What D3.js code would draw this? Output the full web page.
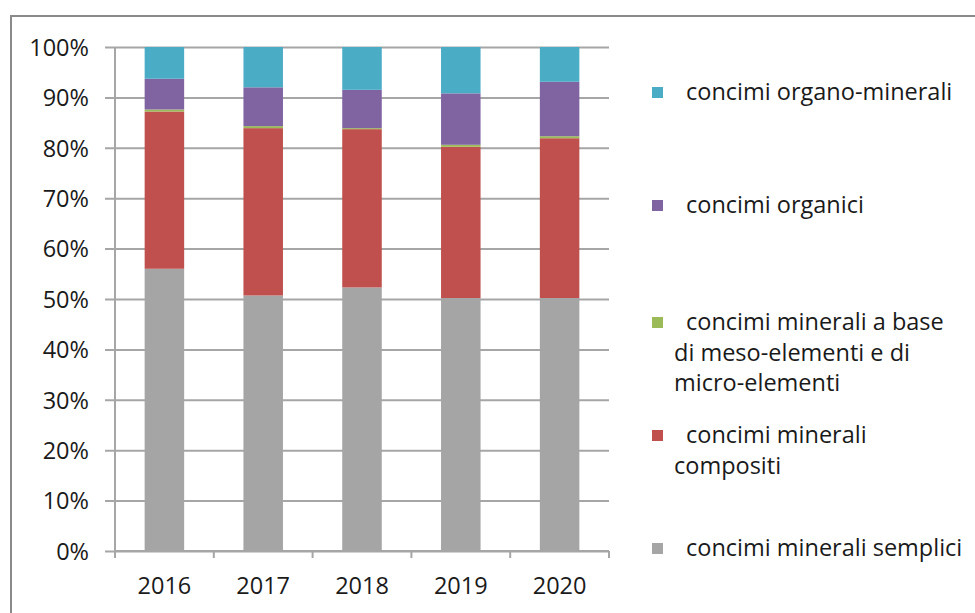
<!DOCTYPE html>
<html>
<head>
<meta charset="utf-8">
<script src="https://cdn.jsdelivr.net/npm/d3@7"></script>
<style>
  body { margin: 0; background: #fff; }
  svg text { font-family: "Open Sans", sans-serif; fill: #1a1a1a; }
</style>
</head>
<body>
<svg id="chart" width="975" height="613"></svg>
<script>
// Years on the x axis
const years = ['2016', '2017', '2018', '2019', '2020'];

// Shares in percent, bottom to top
const semplici = [56.0, 50.7, 52.3, 50.2, 50.2];
const compositi = [31.2, 33.2, 31.4, 30.0, 31.7];
const mesoMicro = [0.4, 0.4, 0.2, 0.4, 0.4];
const organici = [6.1, 7.7, 7.6, 10.2, 10.8];
const organoMinerali = [6.3, 8.0, 8.5, 9.2, 6.9];

const yTicks = [0, 10, 20, 30, 40, 50, 60, 70, 80, 90, 100];

const seriesKeys = ['semplici', 'compositi', 'mesoMicro', 'organici', 'organoMinerali'];
const seriesColors = ['#a5a5a5', '#c0504d', '#9bbb59', '#8064a2', '#4bacc6'];

// legend entries, top to bottom (lines wrap like the original)
const legendItems = [
    { key: 'organoMinerali', lines: ['concimi organo-minerali'] },
    { key: 'organici', lines: ['concimi organici'] },
    { key: 'mesoMicro', lines: ['concimi minerali a base', 'di meso-elementi e di', 'micro-elementi'] },
    { key: 'compositi', lines: ['concimi minerali', 'compositi'] },
    { key: 'semplici', lines: ['concimi minerali semplici'] }
];
const legendY = [92, 205, 322, 435, 548];

const rows = years.map((yr, i) => ({
    year: yr,
    semplici: semplici[i],
    compositi: compositi[i],
    mesoMicro: mesoMicro[i],
    organici: organici[i],
    organoMinerali: organoMinerali[i]
}));

const svg = d3.select('#chart');
const margin = { top: 47, right: 366, bottom: 62, left: 115 };
const width = 975, height = 613;

// outer frame (only top and left edges are visible in the crop)
svg.append('rect')
    .attr('x', 11).attr('y', 16)
    .attr('width', 1000).attr('height', 700)
    .attr('fill', 'none')
    .attr('stroke', '#8a8a8a')
    .attr('stroke-width', 2);

const x = d3.scaleBand()
    .domain(years)
    .range([margin.left, width - margin.right])
    .paddingInner(0.6)
    .paddingOuter(0.3);

const y = d3.scaleLinear()
    .domain([0, 100])
    .range([height - margin.bottom, margin.top]);

const color = d3.scaleOrdinal().domain(seriesKeys).range(seriesColors);

// gridlines + y labels
const yAxis = svg.append('g')
    .attr('transform', `translate(${margin.left},0)`)
    .call(d3.axisLeft(y)
        .tickValues(yTicks)
        .tickSize(-(width - margin.right - margin.left))
        .tickPadding(26)
        .tickFormat(d => d + '%'));
yAxis.select('.domain').remove();
yAxis.selectAll('.tick line')
    .attr('x1', -10)
    .attr('stroke', '#a6a6a6')
    .attr('stroke-width', 2);
yAxis.selectAll('.tick text')
    .attr('font-size', 23.5)
    .attr('dy', '0.35em');

// vertical axis line
svg.append('line')
    .attr('x1', margin.left).attr('x2', margin.left)
    .attr('y1', y(100)).attr('y2', y(0) + 7)
    .attr('stroke', '#a6a6a6').attr('stroke-width', 2);

// stacked bars
const stack = d3.stack().keys(seriesKeys);
const layers = stack(rows);

svg.append('g')
    .selectAll('g')
    .data(layers)
    .join('g')
    .attr('fill', d => color(d.key))
    .selectAll('rect')
    .data(d => d)
    .join('rect')
    .attr('x', d => x(d.data.year))
    .attr('width', x.bandwidth())
    .attr('y', d => y(d[1]))
    .attr('height', d => y(d[0]) - y(d[1]));

// x axis with category boundary ticks
const xStart = margin.left, xEnd = width - margin.right;
svg.append('line')
    .attr('x1', xStart).attr('x2', xEnd)
    .attr('y1', y(0)).attr('y2', y(0))
    .attr('stroke', '#a6a6a6').attr('stroke-width', 2);
svg.append('g')
    .selectAll('line')
    .data(d3.range(years.length + 1))
    .join('line')
    .attr('x1', i => xStart + i * (xEnd - xStart) / years.length)
    .attr('x2', i => xStart + i * (xEnd - xStart) / years.length)
    .attr('y1', y(0)).attr('y2', y(0) + 7)
    .attr('stroke', '#a6a6a6').attr('stroke-width', 2);

svg.append('g')
    .selectAll('text')
    .data(years)
    .join('text')
    .attr('x', d => x(d) + x.bandwidth() / 2)
    .attr('y', y(0) + 35)
    .attr('dy', '0.35em')
    .attr('text-anchor', 'middle')
    .attr('font-size', 23.5)
    .text(d => d);

// legend
const legend = svg.append('g');
legendItems.forEach((item, i) => {
    const g = legend.append('g');
    g.append('rect')
        .attr('x', 652).attr('y', legendY[i] - 5)
        .attr('width', 11).attr('height', 11)
        .attr('fill', color(item.key));
    item.lines.forEach((line, j) => {
        g.append('text')
            .attr('x', j === 0 ? 686 : 674)
            .attr('y', legendY[i] + j * 30.5)
            .attr('dy', '0.35em')
            .attr('font-size', 23.5)
            .text(line);
    });
});
</script>
</body>
</html>
